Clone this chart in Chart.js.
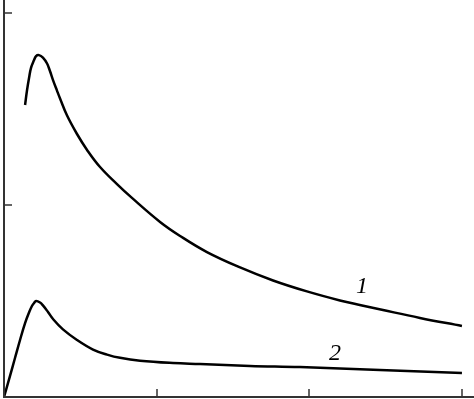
<!DOCTYPE html>
<html>
<head>
<meta charset="utf-8">
<script src="https://cdn.jsdelivr.net/npm/chart.js@4/dist/chart.umd.min.js"></script>
<style>
html,body{margin:0;padding:0;background:#fff;}
canvas{display:block;}
</style>
</head>
<body>
<canvas id="c" width="474" height="399"></canvas>
<script>
// Curve 1
const x1 = [0.138,0.151,0.164,0.177,0.197,0.210,0.229,0.255,0.282,0.301,0.321,0.347,0.367,0.413,0.478,0.544,0.629,0.740,0.838,1.022,1.153,1.329,1.546,1.762,1.984,2.200,2.345,2.482,2.724,2.999];
const y1 = [1.521,1.599,1.662,1.714,1.755,1.776,1.781,1.768,1.737,1.698,1.651,1.596,1.555,1.466,1.370,1.287,1.198,1.109,1.037,0.912,0.839,0.755,0.675,0.607,0.550,0.503,0.477,0.453,0.412,0.370];
// Curve 2
const x2 = [0,0.039,0.072,0.105,0.138,0.164,0.183,0.197,0.210,0.236,0.255,0.288,0.321,0.386,0.478,0.583,0.675,0.760,0.891,1.107,1.284,1.611,1.938,2.462,2.999];
const y2 = [0,0.109,0.203,0.297,0.385,0.440,0.474,0.490,0.500,0.492,0.477,0.443,0.406,0.352,0.297,0.247,0.221,0.204,0.189,0.177,0.172,0.162,0.156,0.141,0.125];
// Ticks
const xTicks = [1,2,3];
const yTicks = [1,2];
// Curve labels
const curveLabels = ["1","2"];
const labelX = [2.344,2.168];
const labelY = [0.573,0.224];

const toPts = (xs, ys) => xs.map((x,i)=>({x:x, y:ys[i]}));

const axesPlugin = {
  id:'axes',
  afterDatasetsDraw(chart){
    const ctx = chart.ctx, a = chart.chartArea;
    const xs = chart.scales.x, ys = chart.scales.y;
    ctx.save();
    ctx.strokeStyle = '#333';
    ctx.lineWidth = 2;
    ctx.beginPath();
    ctx.moveTo(a.left, 0);
    ctx.lineTo(a.left, a.bottom);
    ctx.lineTo(chart.width, a.bottom);
    ctx.stroke();
    ctx.lineWidth = 1.5;
    ctx.beginPath();
    xTicks.forEach(v=>{
      const px = Math.round(xs.getPixelForValue(v));
      ctx.moveTo(px, a.bottom);
      ctx.lineTo(px, a.bottom - 8);
    });
    yTicks.forEach(v=>{
      const py = Math.round(ys.getPixelForValue(v));
      ctx.moveTo(a.left, py);
      ctx.lineTo(a.left + 8, py);
    });
    ctx.stroke();
    ctx.fillStyle = '#000';
    ctx.font = 'italic 24px "Liberation Serif", "DejaVu Serif", serif';
    ctx.textAlign = 'center';
    ctx.textBaseline = 'middle';
    curveLabels.forEach((t,i)=>{
      ctx.fillText(t, xs.getPixelForValue(labelX[i]), ys.getPixelForValue(labelY[i]));
    });
    ctx.restore();
  }
};

new Chart(document.getElementById('c'), {
  type:'line',
  data:{
    datasets:[
      {data: toPts(x1,y1), borderColor:'#000', borderWidth:2.5, pointRadius:0, fill:false, tension:0.4},
      {data: toPts(x2,y2), borderColor:'#000', borderWidth:2.5, pointRadius:0, fill:false, tension:0.4}
    ]
  },
  options:{
    responsive:false,
    animation:false,
    devicePixelRatio:1,
    layout:{padding:{left:4, top:0, right:0, bottom:2}},
    plugins:{legend:{display:false}, tooltip:{enabled:false}},
    scales:{
      x:{type:'linear', display:false, min:0, max:3.078},
      y:{type:'linear', display:false, min:0, max:2.068}
    }
  },
  plugins:[axesPlugin]
});
</script>
</body>
</html>
